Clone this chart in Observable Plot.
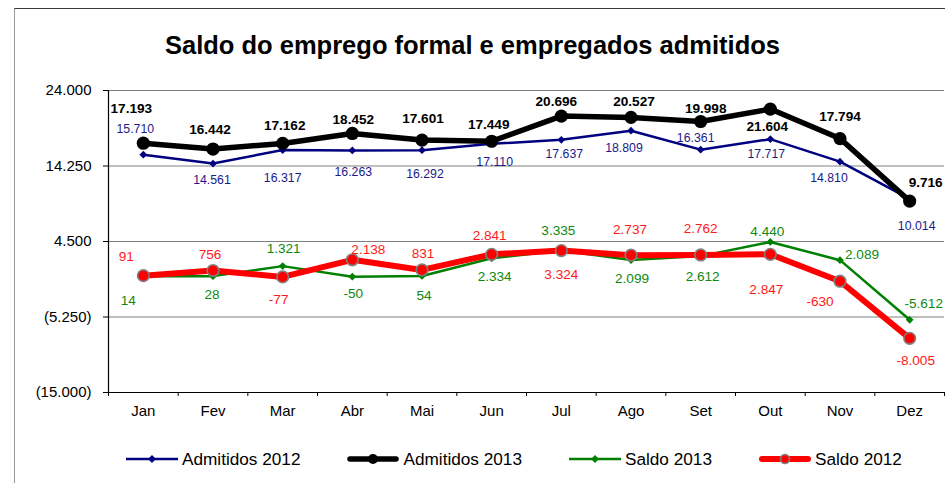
<!DOCTYPE html>
<html>
<head>
<meta charset="utf-8">
<script src="https://cdn.jsdelivr.net/npm/d3@7"></script>
<script src="https://cdn.jsdelivr.net/npm/@observablehq/plot@0.6"></script>
<style>
  body { margin: 0; background: #fff; font-family: "Liberation Sans", Arial, sans-serif; }
  #wrap { position: relative; width: 945px; height: 483px; overflow: hidden; background: #fff; }
  #frame { position: absolute; left: 14px; top: 8px; width: 960px; height: 500px; border-top: 1px solid #3a3a3a; border-left: 1px solid #9a9a9a; }
  #title { position: absolute; left: 0; top: 33px; width: 945px; text-align: center; font-weight: bold; font-size: 25.5px; line-height: 25.5px; color: #000; }
  #chart { position: absolute; left: 0; top: 0; }
  #legend { position: absolute; left: 126px; top: 449px; display: flex; gap: 47px; font-size: 17.2px; line-height: 20px; color: #000; }
  .item { display: flex; align-items: center; height: 20px; }
  .item svg { margin-right: 4px; }
</style>
</head>
<body>
<div id="wrap">
  <div id="frame"></div>
  <div id="chart"></div>
  <div id="title">Saldo do emprego formal e empregados admitidos</div>
  <div id="legend"></div>
</div>
<script>
// ---- data ----
const months = ["Jan","Fev","Mar","Abr","Mai","Jun","Jul","Ago","Set","Out","Nov","Dez"];
const admitidos2012 = [15710,14561,16317,16263,16292,17110,17637,18809,16361,17717,14810,10014];
const admitidos2013 = [17193,16442,17162,18452,17601,17449,20696,20527,19998,21604,17794,9716];
const saldo2013 = [14,28,1321,-50,54,2334,3335,2099,2612,4440,2089,-5612];
const saldo2012 = [91,756,-77,2138,831,2841,3324,2737,2762,2847,-630,-8005];
const yTicks = [24000,14250,4500,-5250,-15000];
const seriesNames = ["Admitidos 2012","Admitidos 2013","Saldo 2013","Saldo 2012"];

// ---- label placement (pixel offsets from each point) ----
const labelOffsets = {
  "Admitidos 2012": [[-8,-26],[-1,16],[0,28],[1,22],[3,24],[3,18],[3,14],[-7,17],[-5,-12],[-4,15],[-11,16],[7,27]],
  "Admitidos 2013": [[-12,-35],[-3,-19],[2,-18],[1,-14],[1,-21],[-3,-17],[-5,-14],[3,-16],[5,-13],[-3,18],[0,-22],[16,-18]],
  "Saldo 2013": [[-15,24],[-1,19],[1,-17],[1,17],[2,20],[3,18],[-3,-20],[1,19],[2,21],[-3,-10],[22,-6],[14,-16]],
  "Saldo 2012": [[-17,-19],[-3,-16],[-4,23],[16,-10],[1,-16],[-2,-19],[0,24],[-1,-26],[0,-26],[-4,35],[-20,20],[6,22]]
};

// ---- styles ----
const styles = {
  "Admitidos 2012": {color: "#000080", width: 2.5, symbol: "diamond2", r: 3.5, fill: "#000080", stroke: "none", font: 12.3, weight: "normal", text: "#1a1a8a"},
  "Admitidos 2013": {color: "#000000", width: 5.5, symbol: "circle", r: 6.6, fill: "#000000", stroke: "none", font: 13.6, weight: "bold", text: "#000"},
  "Saldo 2013": {color: "#008000", width: 2.5, symbol: "diamond2", r: 3.5, fill: "#008000", stroke: "none", font: 13.6, weight: "normal", text: "#118811"},
  "Saldo 2012": {color: "#ff0000", width: 6, symbol: "circle", r: 5.8, fill: "#ff0000", stroke: "#808080", font: 13.6, weight: "normal", text: "#ff1a1a"}
};

const values = {
  "Admitidos 2012": admitidos2012,
  "Admitidos 2013": admitidos2013,
  "Saldo 2013": saldo2013,
  "Saldo 2012": saldo2012
};

const loc = d3.formatLocale({decimal: ",", thousands: ".", grouping: [3], currency: ["R$ ", ""], minus: "-"});
const fmt = loc.format(",d");
const fmtY = v => v < 0 ? "(" + fmt(-v) + ")" : fmt(v);

const marks = [
  Plot.ruleY(yTicks.filter(t => t > -15000), {stroke: "#808080", strokeWidth: 1}),
  Plot.ruleX([0], {stroke: "#000", strokeWidth: 1.2}),
  Plot.ruleY([-15000], {stroke: "#000", strokeWidth: 1.2}),
  Plot.axisY(yTicks, {tickSize: 5, tickPadding: 12, tickFormat: fmtY, fontSize: 15, label: null}),
  Plot.axisX(d3.range(13), {tickSize: 4, tickFormat: () => "", label: null}),
  Plot.axisX(d3.range(12).map(i => i + 0.5), {tickSize: 0, tickPadding: 13, tickFormat: t => months[Math.floor(t)], fontSize: 15, label: null})
];

for (const name of seriesNames) {
  const s = styles[name];
  const rows = values[name].map((v, i) => ({i, v, name}));
  marks.push(Plot.line(rows, {x: d => d.i + 0.5, y: "v", stroke: s.color, strokeWidth: s.width, strokeLinejoin: "round"}));
  marks.push(Plot.dot(rows, {x: d => d.i + 0.5, y: "v", symbol: s.symbol, r: s.r, fill: s.fill, stroke: s.stroke, strokeWidth: s.stroke === "none" ? 0 : 1.6}));
}
for (const name of seriesNames) {
  const s = styles[name];
  values[name].forEach((v, i) => {
    const [dx, dy] = labelOffsets[name][i];
    marks.push(Plot.text([{i, v}], {
      x: d => d.i + 0.5, y: "v", text: d => fmt(d.v),
      dx, dy, fontSize: s.font, fontWeight: s.weight, fill: s.text
    }));
  });
}

const chart = Plot.plot({
  width: 945,
  height: 483,
  marginTop: 90,
  marginBottom: 91,
  marginLeft: 108,
  marginRight: 1,
  x: {type: "linear", domain: [0, 12]},
  y: {domain: [-15000, 24000]},
  style: {fontFamily: "'Liberation Sans', Arial, sans-serif", background: "transparent", color: "#000", overflow: "visible"},
  marks
});
document.getElementById("chart").appendChild(chart);

// ---- legend ----
const legend = document.getElementById("legend");
for (const name of seriesNames) {
  const s = styles[name];
  const item = document.createElement("div");
  item.className = "item";
  const svg = d3.create("svg").attr("width", 52).attr("height", 20);
  svg.append("line").attr("x1", s.width > 3 ? 3 : 0).attr("x2", s.width > 3 ? 49 : 52).attr("y1", 10).attr("y2", 10)
    .attr("stroke", s.color).attr("stroke-width", s.width).attr("stroke-linecap", s.width > 3 ? "round" : "butt");
  if (s.symbol === "circle") {
    svg.append("circle").attr("cx", 26).attr("cy", 10).attr("r", name === "Saldo 2012" ? 4.5 : 5)
      .attr("fill", s.fill).attr("stroke", s.stroke === "none" ? null : s.stroke).attr("stroke-width", 1.6);
  } else {
    svg.append("path").attr("d", d3.symbol(d3.symbolDiamond2, Math.PI * s.r * s.r)()).attr("transform", "translate(26,10)").attr("fill", s.fill);
  }
  item.appendChild(svg.node());
  const span = document.createElement("span");
  span.textContent = name;
  item.appendChild(span);
  legend.appendChild(item);
}
</script>
</body>
</html>
